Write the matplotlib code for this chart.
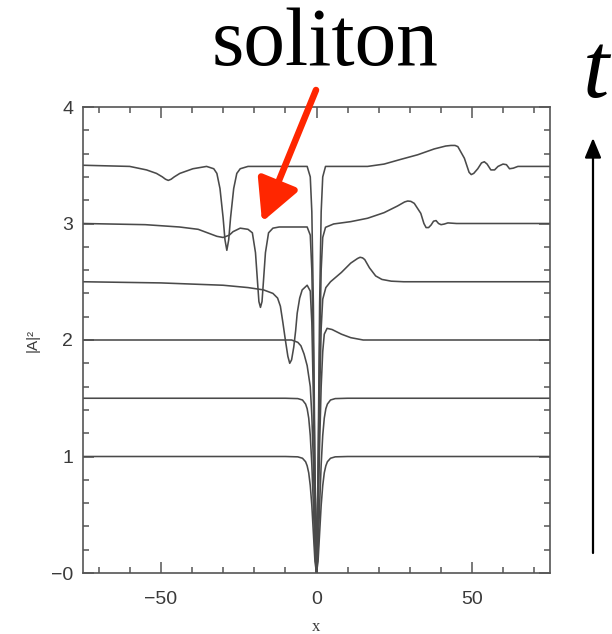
import matplotlib
matplotlib.use("Agg")
import matplotlib.pyplot as plt
from matplotlib.ticker import MultipleLocator, FixedLocator, FixedFormatter

# ---- data (|A|^2 profiles, offset in time) ----
x_t0 = [-75, -10, -6, -4.5, -3.5, -3, -2.5, -2, -1.5, -1, -0.5, 0, 0.5, 1, 1.5, 2, 2.5, 3, 3.5, 4.5, 6, 10, 75]
y_t0 = [1.0, 1.0, 0.997, 0.985, 0.955, 0.92, 0.86, 0.75, 0.58, 0.34, 0.10, 0.0, 0.10, 0.34, 0.58, 0.75, 0.86, 0.92, 0.955, 0.985, 0.997, 1.0, 1.0]

x_t1 = [-75, -10, -6, -4.5, -3.5, -3, -2.5, -2, -1.5, -1, -0.5, 0, 0.5, 1, 1.5, 2, 2.5, 3, 3.5, 4.5, 6, 10, 75]
y_t1 = [1.5, 1.5, 1.497, 1.485, 1.45, 1.41, 1.33, 1.18, 0.93, 0.58, 0.18, 0.0, 0.18, 0.58, 0.93, 1.18, 1.33, 1.41, 1.45, 1.485, 1.497, 1.5, 1.5]

x_t2 = [-75, -8, -6, -5, -4, -3, -2, -1.5, -1, -0.5, 0, 0.5, 1, 1.5, 2, 2.5, 3.4, 5, 8, 11, 15, 75]
y_t2 = [2.0, 2.0, 1.98, 1.95, 1.88, 1.78, 1.6, 1.35, 0.95, 0.4, 0.0, 0.45, 1.1, 1.6, 1.9, 2.05, 2.1, 2.09, 2.05, 2.02, 2.0, 2.0]

x_t3 = [-75, -50, -30, -22, -17, -14, -12.5, -11.6, -10.8, -10, -9.2, -8.6, -8, -7.3, -6.7, -6.2,
        -5.4, -4.6, -3, -2, -1.5, -1, -0.5, 0, 0.5, 1, 1.5, 2, 3, 4.5, 8, 11, 13.2, 14, 14.8, 15.5, 17, 19, 21, 24, 28, 75]
y_t3 = [2.5, 2.49, 2.47, 2.45, 2.43, 2.40, 2.36, 2.29, 2.15, 2.0, 1.86, 1.80, 1.83, 1.94, 2.08, 2.23,
        2.36, 2.43, 2.47, 2.42, 2.15, 1.5, 0.6, 0.0, 0.6, 1.5, 2.1, 2.35, 2.45, 2.5, 2.58, 2.66, 2.70, 2.71, 2.705, 2.69, 2.62, 2.55, 2.52, 2.505, 2.5, 2.5]

x_t4 = [-75, -55, -44, -38, -35, -32, -30, -28, -26.8, -24.5, -22, -20.6, -19.6, -19, -18.5, -18, -17.5, -17,
        -16.4, -15.4, -14, -12, -3, -2, -1.5, -1, -0.5, 0, 0.5, 1, 1.5, 2, 2.9, 5.5, 11, 16.4, 21.7, 26,
        28.3, 29.3, 30.3, 31.4, 33.5, 34.5, 35.2, 36, 36.8, 37.6, 38.4, 39.2, 40, 41, 42.2, 45, 75]
y_t4 = [3.0, 2.99, 2.97, 2.95, 2.92, 2.89, 2.88, 2.90, 2.93, 2.96, 2.95, 2.92, 2.75, 2.52, 2.33, 2.28, 2.33, 2.52,
        2.75, 2.92, 2.96, 2.97, 2.97, 2.9, 2.6, 1.9, 0.8, 0.0, 0.8, 1.9, 2.6, 2.88, 2.967, 2.996, 3.016, 3.045, 3.093, 3.15,
        3.185, 3.193, 3.19, 3.173, 3.087, 3.0, 2.965, 2.965, 2.987, 3.02, 3.025, 3.0, 2.99, 2.995, 3.005, 3.0, 3.0]

x_t5 = [-75, -60, -54.6, -51.4, -49.5, -48.5, -47.6, -46.7, -45.7, -43.9, -39.7, -35.3, -33, -32, -31, -30, -29.4, -28.8,
        -28.2, -27.6, -26.6, -25.6, -24.5, -22, -3, -2, -1.5, -1, -0.5, 0, 0.5, 1, 1.5, 2, 2.9, 16.4, 21.7,
        27, 32.5, 37.8, 41.5, 43.2, 44.5, 45.4, 47.5, 49, 49.7, 50.5, 51.8, 53, 53.9, 54.8, 56, 57.2, 58.3, 59.9, 61, 62, 63.2, 64.7, 75]
y_t5 = [3.5, 3.49, 3.46, 3.43, 3.40, 3.38, 3.37, 3.38, 3.40, 3.43, 3.47, 3.49, 3.47, 3.43, 3.3, 3.05, 2.86, 2.77,
        2.86, 3.05, 3.3, 3.43, 3.47, 3.49, 3.49, 3.4, 3.1, 2.3, 0.9, 0.0, 0.9, 2.3, 3.1, 3.4, 3.49, 3.49, 3.51,
        3.55, 3.59, 3.64, 3.665, 3.67, 3.67, 3.66, 3.56, 3.44, 3.42, 3.43, 3.47, 3.52, 3.53, 3.51, 3.46, 3.46, 3.49, 3.51, 3.505, 3.47, 3.475, 3.49, 3.49]

curves = [(x_t0, y_t0), (x_t1, y_t1), (x_t2, y_t2), (x_t3, y_t3), (x_t4, y_t4), (x_t5, y_t5)]

x_ticks = [-50, 0, 50]
x_ticklabels = ["\u221250", "0", "50"]
y_ticks = [0, 1, 2, 3, 4]
y_ticklabels = ["\u22120", "1", "2", "3", "4"]

W, H = 612, 634
fig = plt.figure(figsize=(W / 100, H / 100), dpi=100)
fig.patch.set_facecolor("white")
ax = fig.add_axes([83 / W, 1 - 573 / H, (550 - 83) / W, (573 - 107) / H])

line_col = "#4a4a4a"
for xs, ys in curves:
    ax.plot(xs, ys, color=line_col, lw=1.15, solid_joinstyle="round")

ax.set_xlim(-75, 75)
ax.set_ylim(0, 4)

ax.xaxis.set_major_locator(FixedLocator(x_ticks))
ax.xaxis.set_major_formatter(FixedFormatter(x_ticklabels))
ax.xaxis.set_minor_locator(MultipleLocator(10))
ax.yaxis.set_major_locator(FixedLocator(y_ticks))
ax.yaxis.set_major_formatter(FixedFormatter(y_ticklabels))
ax.yaxis.set_minor_locator(MultipleLocator(0.2))

spine_col = "#555555"
for s in ax.spines.values():
    s.set_color(spine_col)
    s.set_linewidth(1.2)

ax.tick_params(which="both", direction="in", top=True, right=True, color=spine_col, width=1.1)
ax.tick_params(which="major", length=8)
ax.tick_params(which="minor", length=4.3)
ax.tick_params(axis="x", which="major", pad=13, labelsize=14, labelcolor="#3a3a3a")
ax.tick_params(axis="y", which="major", pad=7, labelsize=14, labelcolor="#3a3a3a")
for lab in ax.get_xticklabels() + ax.get_yticklabels():
    lab.set_family("Liberation Sans")

ax.set_xlabel("x", fontsize=12, color="#3a3a3a", family="Liberation Serif", labelpad=8)
ax.set_ylabel("|A|\u00b2", fontsize=11, color="#3a3a3a", family="Liberation Sans", labelpad=8)

# annotations
fig.text(325 / W, 1 - 65 / H, "soliton", ha="center", va="baseline",
         fontsize=60, family="Liberation Serif", color="black")
fig.text(583 / W, 1 - 97 / H, "t", ha="left", va="baseline",
         fontsize=68, family="Liberation Serif", style="italic", color="black")

ax.annotate("", xy=(262, H - 222), xycoords="figure pixels",
            xytext=(316, H - 90), textcoords="figure pixels",
            arrowprops=dict(arrowstyle="-|>,head_length=25,head_width=13", mutation_scale=1,
                            color="#ff2600", lw=4.7, shrinkA=0, shrinkB=0))
ax.annotate("", xy=(593, H - 138), xycoords="figure pixels",
            xytext=(593, H - 553), textcoords="figure pixels",
            arrowprops=dict(arrowstyle="-|>,head_length=12,head_width=5", mutation_scale=1,
                            color="black", lw=1.6, shrinkA=0, shrinkB=0))

fig.savefig("out.png", dpi=100, facecolor="white")
